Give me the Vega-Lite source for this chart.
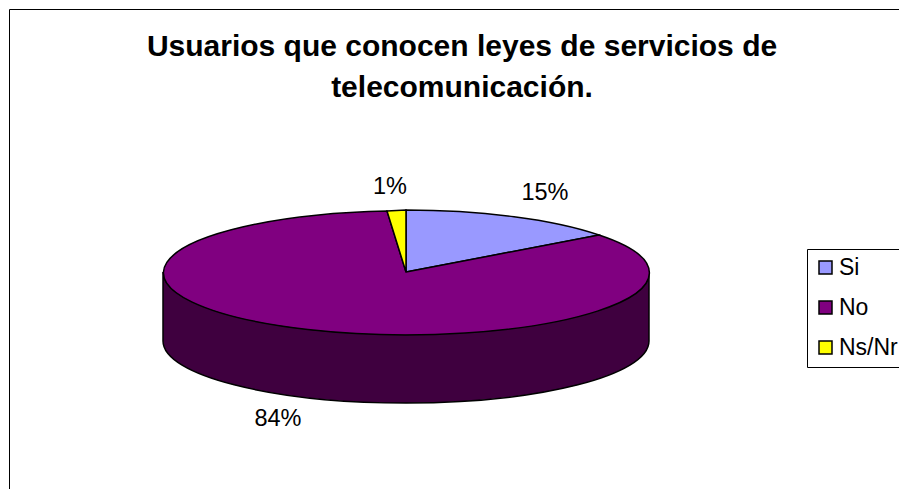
{
"$schema":"https://vega.github.io/schema/vega-lite/v6.json",
"width":900,"height":490,
"autosize":"none",
"padding":{"left":9,"top":9,"right":0,"bottom":0},
"background":"white",
"config":{"view":{"stroke":"#000000","strokeWidth":1,"fill":"white"},"font":"Liberation Sans"},
"title":{"text":["Usuarios que conocen leyes de servicios de","telecomunicación."],"anchor":"middle","frame":"group","orient":"top","offset":-88,"baseline":"alphabetic","dx":3,"dy":30,"fontSize":30,"fontWeight":"bold","lineHeight":41,"color":"#000000","font":"Liberation Sans"},
"data":{"values":[
{"respuesta":"Si","porcentaje":0.15},
{"respuesta":"No","porcentaje":0.84},
{"respuesta":"Ns/Nr","porcentaje":0.01}
]},
"layer":[
{"transform":[{"filter":"datum.respuesta === 'No'"}],
 "mark":{"type":"point","filled":true,"opacity":1,"size":4,"fill":"#3f003f","stroke":"#000000","strokeWidth":1.5},
 "encoding":{"shape":{"value":"M -296,18 L -296,87 A 243 62 0 0 0 190,87 L 190,18 A 243 62 0 0 1 -296,18 Z"}}},
{"mark":{"type":"point","filled":true,"opacity":1,"size":4,"stroke":"#000000","strokeWidth":1.5},
 "encoding":{
  "color":{"field":"respuesta","type":"nominal","sort":["Si","No","Ns/Nr"],
   "scale":{"domain":["Si","No","Ns/Nr"],"range":["#9999ff","#800080","#ffff00"]},
   "legend":{"title":null,"orient":"none","legendX":798,"legendY":240,"padding":7,"strokeColor":"#000000","fillColor":"white","symbolType":"square","symbolSize":169,"symbolStrokeColor":"#000000","symbolStrokeWidth":1.5,"symbolOpacity":1,"labelFontSize":23,"labelFont":"Liberation Sans","labelColor":"#000000","rowPadding":16,"labelOffset":2,"labelLimit":200}},
  "shape":{"field":"respuesta","type":"nominal","legend":null,
   "scale":{"domain":["Si","No","Ns/Nr"],"range":[
    "M -53,18 L -53,-44 A 243 62 0 0 1 140,-19 Z",
    "M -53,18 L 140,-19 A 243 62 0 1 1 -72,-43 Z",
    "M -53,18 L -72,-43 A 243 62 0 0 1 -53,-44 Z"]}}
 }},
{"mark":{"type":"text","fontSize":23.5,"font":"Liberation Sans","color":"#000000","align":"center","baseline":"middle"},
 "encoding":{
  "x":{"field":"porcentaje","type":"quantitative","axis":null,"scale":{"domain":[0.01,0.15,0.84],"range":[381,536,269],"clamp":false}},
  "y":{"field":"porcentaje","type":"quantitative","axis":null,"scale":{"domain":[0.01,0.15,0.84],"range":[178,184,410]}},
  "text":{"field":"porcentaje","type":"quantitative","format":".0%"}
 }}
],
"resolve":{"scale":{"shape":"independent"}}
}
